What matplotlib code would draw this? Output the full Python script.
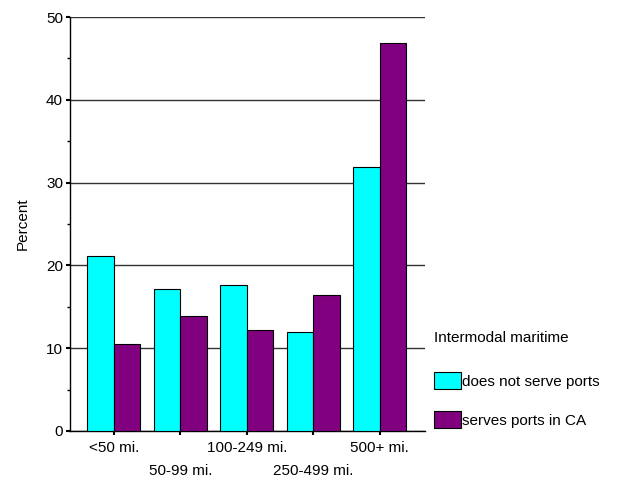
"""
Intermodal maritime: share by distance band
"""
import matplotlib.pyplot as plt
import numpy as np

plt.rcParams['font.family'] = ['Liberation Sans', 'DejaVu Sans']

categories = ["<50 mi.", "50-99 mi.", "100-249 mi.", "250-499 mi.", "500+ mi."]
no_ports = [21.1, 17.2, 17.6, 11.9, 31.9]
ca_ports = [10.5, 13.9, 12.2, 16.4, 46.9]
series_names = ["does not serve ports", "serves ports in CA"]
legend_title = "Intermodal maritime"

x = np.arange(len(categories))
w = 0.4
fs = 11

fig = plt.figure(figsize=(6.23, 4.79), dpi=100)
ax = fig.add_axes([70 / 623, 48 / 479, 355 / 623, 414 / 479])

ax.bar(x - w / 2, no_ports, w, color="#00ffff", edgecolor="black", linewidth=0.8,
       label=series_names[0], zorder=3)
ax.bar(x + w / 2, ca_ports, w, color="#800080", edgecolor="black", linewidth=0.8,
       label=series_names[1], zorder=3)

ax.set_ylim(0, 50)
ax.set_xlim(-0.66, 4.68)
ax.set_yticks([0, 10, 20, 30, 40, 50])
ax.set_yticks([5, 15, 25, 35, 45], minor=True)
ax.yaxis.grid(True, color="#333333", linewidth=1, zorder=0)
ax.set_axisbelow(True)
for s in ["top", "right"]:
    ax.spines[s].set_visible(False)
ax.spines["left"].set_linewidth(1)
ax.spines["bottom"].set_linewidth(1)
ax.tick_params(axis="y", which="major", length=3, width=1.5, labelsize=fs, pad=2)
ax.tick_params(axis="y", which="minor", length=2, width=1)
ax.tick_params(axis="x", length=3, width=1.5, labelsize=fs, pad=2)

# staggered category labels
ax.set_xticks(x)
ax.set_xticklabels(["" for _ in categories])
for i, c in enumerate(categories):
    off = -0.04 if i % 2 == 0 else -0.097
    ax.text(i, off, c, transform=ax.get_xaxis_transform(), ha="center", va="center",
            fontsize=fs)

ax.set_ylabel("Percent", fontsize=fs, labelpad=12)

leg = ax.legend(loc="upper left", bbox_to_anchor=(423 / 623, 159 / 479),
                bbox_transform=fig.transFigure, frameon=False, title=legend_title,
                fontsize=fs, title_fontsize=fs, handlelength=1.76, handleheight=1.3,
                labelspacing=1.45, handletextpad=0.1, alignment="left",
                borderpad=0.2)
leg._legend_box.sep = 20

plt.savefig("out.png", dpi=100)
